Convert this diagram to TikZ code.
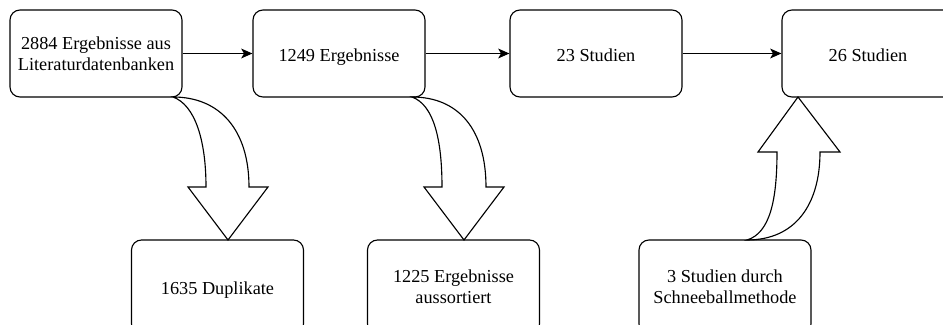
\documentclass[tikz,border=0pt]{standalone}
\usepackage{fontspec}
\setmainfont{Liberation Serif}[UprightFont=*, BoldFont=* Bold]
\usetikzlibrary{arrows.meta}
\begin{document}
\begin{tikzpicture}[line width=0.8pt,
  box/.style={draw, rounded corners=0.25cm, minimum width=4.3cm, minimum height=2.175cm, inner sep=0pt, align=center, font=\rmfamily\fontsize{13}{15}\selectfont},
  lowbox/.style={box, minimum height=2.35cm},
  oneline/.style={text height=14pt, text depth=3pt},
  flow/.style={-{Stealth[length=8pt,width=7pt,inset=2pt]}}]
\useasboundingbox (0,0) rectangle (23.575,-8.125);
% top row
\node[box] (n1) at (2.4,-1.3375) {2884 Ergebnisse aus\\Literaturdatenbanken};
\node[box, oneline] (n2) at (8.475,-1.3375) {1249 Ergebnisse};
\node[box, oneline] (n3) at (14.9,-1.3375) {23 Studien};
\node[box, oneline] (n4) at (21.7,-1.3375) {26 Studien};
% bottom row
\node[lowbox, oneline] (dup) at (5.4375,-7.175) {1635 Duplikate};
\node[lowbox] (aus) at (11.3375,-7.175) {1225 Ergebnisse\\aussortiert};
\node[lowbox] (ball) at (18.125,-7.175) {3 Studien durch\\Schneeballmethode};
\draw[flow] (n1) -- (n2);
\draw[flow] (n2) -- (n3);
\draw[flow] (n3) -- (n4);
% curved block arrows
\draw[line join=miter] (4.325,-2.425) .. controls (4.875,-2.625) and (5.15,-3.5) .. (5.15,-4.675)
  -- (4.7,-4.675) -- (5.7,-6.0) -- (6.7,-4.675) -- (6.225,-4.675)
  .. controls (6.225,-3.25) and (5.5,-2.425) .. cycle;
\draw[line join=miter] (10.3,-2.425) .. controls (10.85,-2.625) and (11.05,-3.5) .. (11.05,-4.675)
  -- (10.6,-4.675) -- (11.6,-6.0) -- (12.6,-4.675) -- (12.15,-4.675)
  .. controls (12.15,-3.25) and (11.475,-2.425) .. cycle;
\draw[line join=miter] (18.675,-6.0) .. controls (19.25,-5.825) and (19.425,-5.0) .. (19.425,-3.8)
  -- (18.95,-3.8) -- (19.95,-2.425) -- (21.0,-3.8) -- (20.5,-3.8)
  .. controls (20.5,-5.125) and (19.875,-6.0) .. cycle;
\end{tikzpicture}
\end{document}
